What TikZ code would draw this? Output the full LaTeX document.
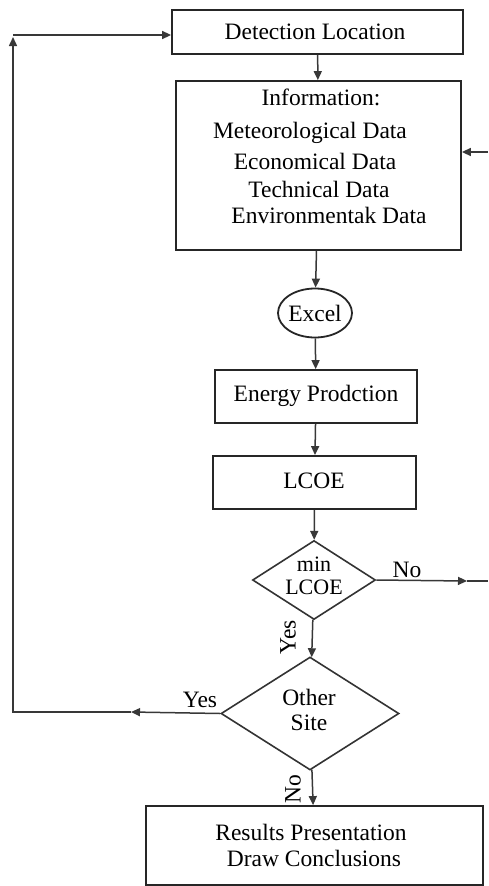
\documentclass[tikz,border=0pt]{standalone}
\usepackage{fontspec}
\setmainfont{Liberation Serif}
\usetikzlibrary{shapes.geometric,arrows.meta}
\begin{document}
\begin{tikzpicture}[x=1pt,y=-1pt,
  box/.style={draw=black!85,line width=1.8pt,rectangle,inner sep=0pt},
  txt/.style={inner sep=0pt,font=\fontsize{23.5}{27}\selectfont,text=black},
  lbl/.style={inner sep=0pt,font=\fontsize{23.5}{27}\selectfont,text=black},
  arr/.style={draw=black!78,line width=1.5pt,-{Triangle[length=9pt,width=8pt]}},
  ln/.style={draw=black!78,line width=1.5pt}]
\useasboundingbox (0,0) rectangle (488,886);
% boxes
\node[box,minimum width=291pt,minimum height=44pt] (det) at (317.5,32) {};
\node[txt] (dett) at (315,32) {Detection Location};
\node[box,minimum width=285pt,minimum height=169pt] (info) at (318.5,165.5) {};
\node[txt] (i0) at (321,97) {Information:};
\node[txt] (i1) at (310,133) {Meteorological Data};
\node[txt] (i2) at (315,161) {Economical Data};
\node[txt] (i3) at (319,189) {Technical Data};
\node[txt] (i4) at (329,215) {Environmentak Data};
\node[draw=black!85,line width=1.8pt,ellipse,minimum width=74pt,minimum height=49pt,inner sep=0pt] (ex) at (315,313) {};
\node[txt] (ext) at (315,313) {Excel};
\node[box,minimum width=202pt,minimum height=53pt] (en) at (316,396.5) {};
\node[txt] (ent) at (316,396) {Energy Prodction};
\node[box,minimum width=203pt,minimum height=53pt] (lc) at (314.5,482.5) {};
\node[txt] (lct) at (314,481) {LCOE};
\node[draw=black!80,line width=1.6pt,diamond,minimum width=123pt,minimum height=79pt,inner sep=0pt] (d1) at (314,580) {};
\node[txt,font=\fontsize{22}{22}\selectfont] (d1a) at (314,564) {min};
\node[txt,font=\fontsize{22}{22}\selectfont] (d1b) at (314,587) {LCOE};
\node[draw=black!80,line width=1.6pt,diamond,minimum width=178pt,minimum height=113pt,inner sep=0pt] (d2) at (310,713.5) {};
\node[txt] (d2a) at (309,697) {Other};
\node[txt] (d2b) at (309,723) {Site};
\node[box,minimum width=337pt,minimum height=79pt] (res) at (314.5,845.5) {};
\node[txt] (r1) at (311,832) {Results Presentation};
\node[txt] (r2) at (314,858) {Draw Conclusions};
% connectors
\draw[arr] (det) -- (info);
\draw[arr] (info) -- (ex);
\draw[arr] (ex) -- (en);
\draw[arr] (en) -- (lc);
\draw[arr] (lc) -- (d1);
\draw[arr] (d1) -- (d2);
\node[lbl,rotate=90] (yes1) at (288,637) {Yes};
\draw[arr] (d2) -- (res);
\node[lbl,rotate=90] (no2) at (293,789) {No};
\coordinate (rin) at (488,152);
\draw[arr] (rin) -- (info.east |- rin);
\coordinate (noMid) at (467,581);
\coordinate (noEnd) at (488,581);
\draw[arr] (d1.east) -- (noMid);
\node[lbl] (no1) at (407,570) {No};
\draw[ln] (noMid) -- (noEnd);
\coordinate (yesMid) at (131,712);
\coordinate (bl) at (13,712);
\coordinate (tl) at (13,37);
\coordinate (tl2) at (13,35);
\draw[arr] (d2.west) -- (yesMid);
\node[lbl] (yes2) at (200,700) {Yes};
\draw[arr] (yesMid) -- (bl) -- (tl);
\draw[arr] (tl2) -- (det.west |- tl2);
\end{tikzpicture}
\end{document}
